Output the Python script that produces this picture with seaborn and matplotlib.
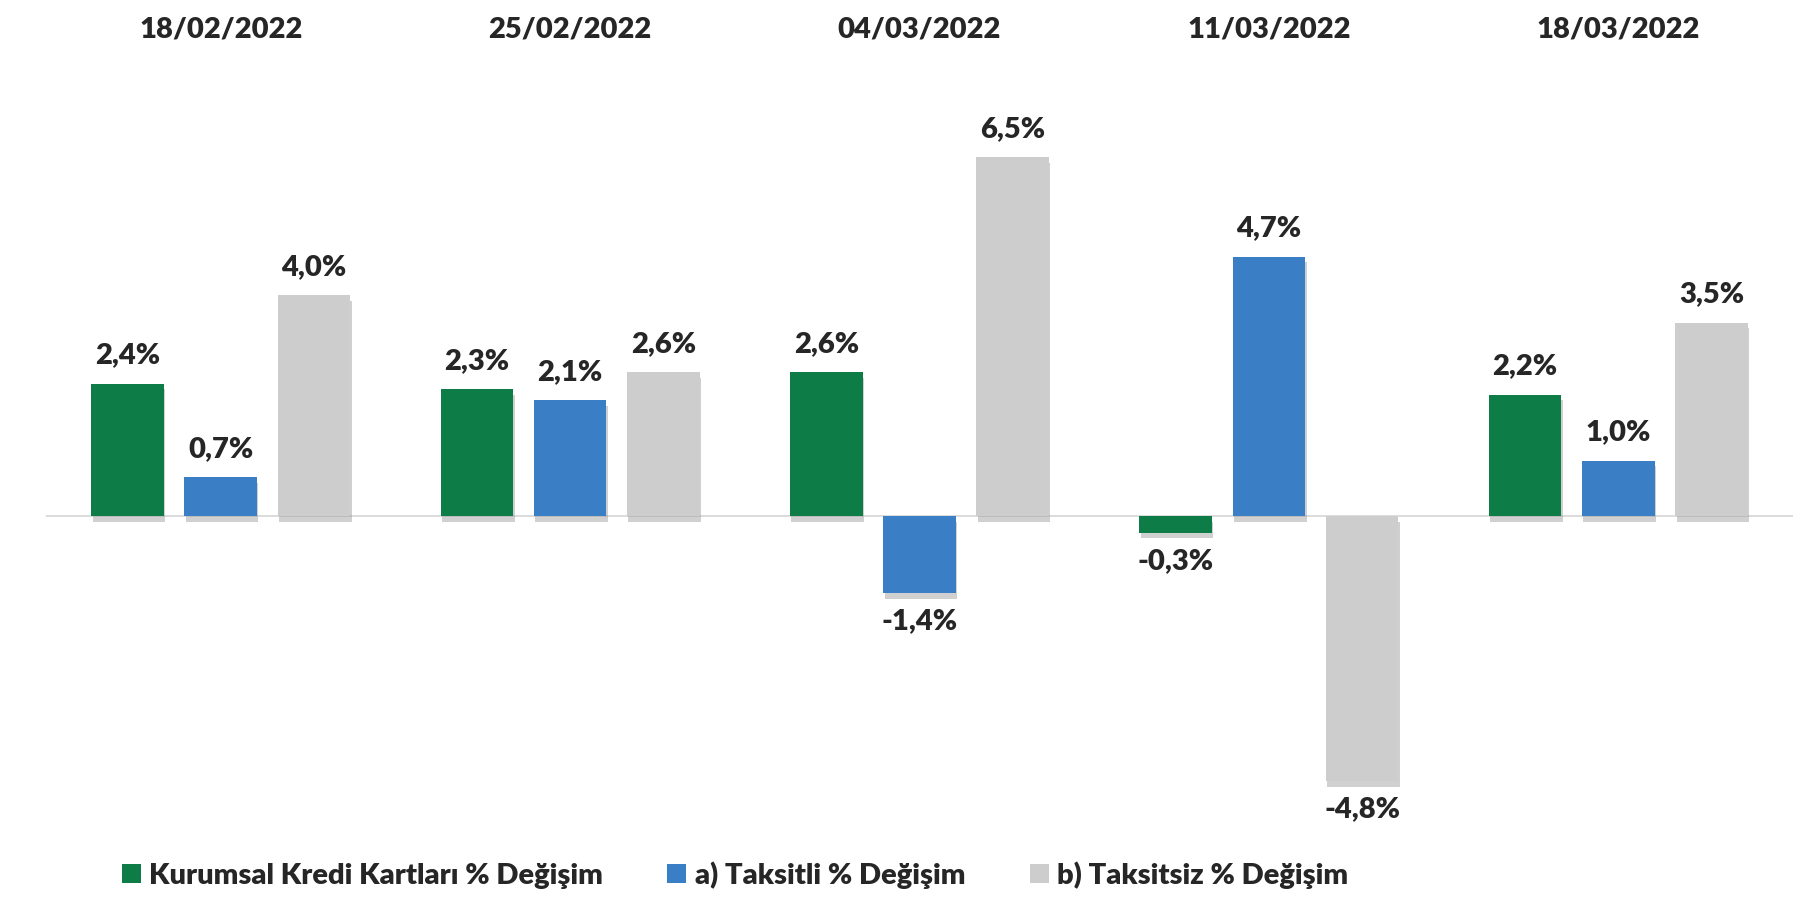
import numpy as np
import pandas as pd
import matplotlib
matplotlib.use("Agg")
import matplotlib.pyplot as plt
import matplotlib.patheffects as pe
import seaborn as sns

# Veriler
tarihler = ['18/02/2022', '25/02/2022', '04/03/2022', '11/03/2022', '18/03/2022']
seriler = ['Kurumsal Kredi Kartları % Değişim', 'a) Taksitli % Değişim', 'b) Taksitsiz % Değişim']
kurumsal = [2.4, 2.3, 2.6, -0.3, 2.2]
taksitli = [0.7, 2.1, -1.4, 4.7, 1.0]
taksitsiz = [4.0, 2.6, 6.5, -4.8, 3.5]
renkler = ['#0E7C47', '#3A7EC6', '#CDCDCD']

# Uzun format
df = pd.DataFrame({
    'tarih': tarihler * 3,
    'seri': [s for s in seriler for _ in tarihler],
    'deger': kurumsal + taksitli + taksitsiz,
})

sns.set_style('white')
plt.rcParams['font.family'] = ['Lato', 'DejaVu Sans']
plt.rcParams['font.weight'] = 'heavy'

fig = plt.figure(figsize=(17.93, 9.01), dpi=100)
ax = fig.add_axes([0.0257, 0.0903, 0.9743, 0.7965])

sns.barplot(data=df, x='tarih', y='deger', hue='seri', palette=renkler,
            saturation=1, width=0.8, gap=0.22, ax=ax, errorbar=None,
            edgecolor='none', linewidth=0)

golge = [pe.withSimplePatchShadow(offset=(1, -4), shadow_rgbFace='#8a8a8a', alpha=0.4)]
for cont in ax.containers:
    for bar in cont:
        bar.set_path_effects(golge)
    etiketler = [f"{v:.1f}%".replace('.', ',') for v in cont.datavalues]
    ax.bar_label(cont, labels=etiketler, padding=11, fontsize=21, fontweight='heavy')

ax.axhline(0, color='#D9D9D9', linewidth=1.3, zorder=0)
ax.set_xlim(-0.5, 4.5)
ax.set_ylim(-5.5, 7.5)

ax.xaxis.tick_top()
ax.tick_params(axis='x', length=0, pad=43, labelsize=21)
for t in ax.get_xticklabels():
    t.set_fontweight('heavy')
ax.set_yticks([])
ax.set_xlabel('')
ax.set_ylabel('')
sns.despine(ax=ax, left=True, bottom=True, top=True, right=True)

ax.legend(loc='center', bbox_to_anchor=(0.41, 0.029), bbox_transform=fig.transFigure,
          ncol=3, frameon=False, handlelength=0.65, handleheight=0.65,
          handletextpad=0.3, columnspacing=2.2, prop={'weight': 'heavy', 'size': 21})

fig.savefig('out.png', dpi=100)
